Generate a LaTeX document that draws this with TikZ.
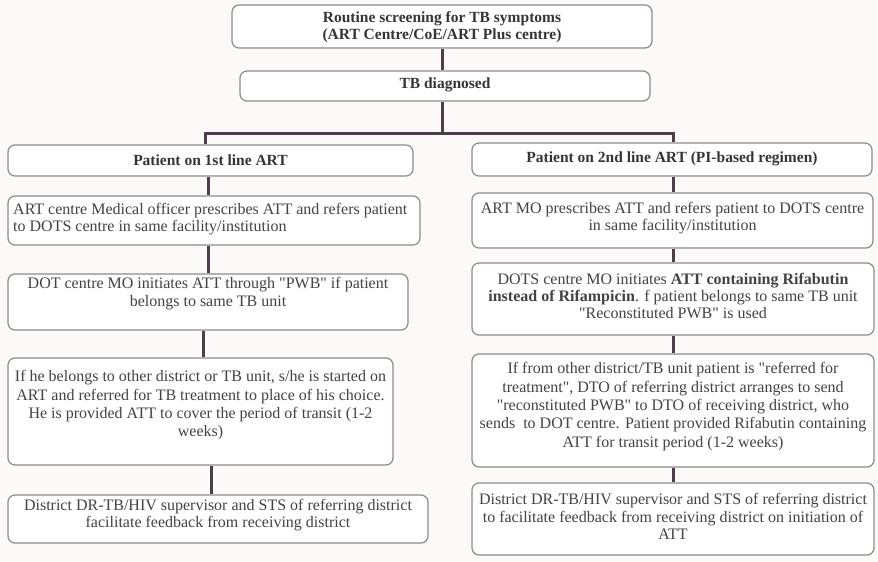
\documentclass[tikz,border=0pt]{standalone}
\usepackage{fontspec}
\setmainfont{Liberation Serif}
\definecolor{boxline}{HTML}{8C8A8C}
\definecolor{linkcol}{HTML}{4E3E4C}
\definecolor{txt}{HTML}{444244}
\definecolor{paper}{HTML}{FCFAF8}
\newcommand{\sq}[1]{\textquotedbl#1\textquotedbl}
\begin{document}
\begin{tikzpicture}[x=1pt,y=-1pt,
  box/.style={draw=boxline, line width=1.2pt, rounded corners=7pt, fill=white,
    inner sep=0pt},
  txtnode/.style={text=txt, font=\fontsize{16}{18}\selectfont, align=center,
    inner sep=0pt},
  head/.style={txtnode, text=txt!80!black, font=\fontsize{15.5}{16.5}\selectfont\bfseries},
  link/.style={draw=linkcol, line width=3pt}]
\fill[paper] (0,0) rectangle (878,562);
\useasboundingbox (0,0) rectangle (878,562);

% boxes
\node[box, minimum width=420pt, minimum height=43pt] (top) at (442,26.5) {};
\node[box, minimum width=410pt, minimum height=30pt] (diag) at (445,86) {};
\node[box, minimum width=405pt, minimum height=31pt] (L1) at (210.5,160.5) {};
\node[box, minimum width=400pt, minimum height=33pt] (R1) at (672,159.5) {};
\node[box, minimum width=412pt, minimum height=49pt] (L2) at (214,220.5) {};
\node[box, minimum width=401pt, minimum height=55pt] (R2) at (672.5,220.5) {};
\node[box, minimum width=400pt, minimum height=56pt] (L3) at (208,302) {};
\node[box, minimum width=402pt, minimum height=72pt] (R3) at (673,299) {};
\node[box, minimum width=385pt, minimum height=107pt] (L4) at (200.5,411.5) {};
\node[box, minimum width=402pt, minimum height=113pt] (R4) at (673,410.5) {};
\node[box, minimum width=420pt, minimum height=48pt] (L5) at (218,519) {};
\node[box, minimum width=402pt, minimum height=72pt] (R5) at (673,519) {};

% texts
\node[head] (ttop) at (442,27)
  {Routine screening for TB symptoms\\(ART Centre/CoE/ART Plus centre)};
\node[head] (tdiag) at (445,85) {TB diagnosed};
\node[head] (tL1) at (210.5,160) {Patient on 1st line ART};
\node[head] (tR1) at (672,159) {Patient on 2nd line ART (PI-based regimen)};
\node[txtnode, font=\fontsize{16}{16.5}\selectfont, align=left, anchor=west] (tL2) at (13,219)
  {ART centre Medical officer prescribes ATT and refers patient\\to DOTS centre in same facility/institution};
\node[txtnode, font=\fontsize{16}{16.5}\selectfont] (tR2) at (672.5,218)
  {ART MO prescribes ATT and refers patient to DOTS centre\\in same facility/institution};
\node[txtnode] (tL3) at (208,294)
  {DOT centre MO initiates ATT through \sq{PWB} if patient\\belongs to same TB unit};
\node[txtnode, font=\fontsize{16}{17}\selectfont] (tR3) at (673,296)
  {DOTS centre MO initiates \textbf{ATT containing Rifabutin}\\\textbf{instead of Rifampicin}. f patient belongs to same TB unit\\\sq{Reconstituted PWB} is used};
\node[txtnode, font=\fontsize{16}{18.3}\selectfont] (tL4) at (200.5,405.5)
  {If he belongs to other district or TB unit, s/he is started on\\ART and referred for TB treatment to place of his choice.\\He is provided ATT to cover the period of transit (1-2\\weeks)};
\node[txtnode, font=\fontsize{16}{18.3}\selectfont] (tR4) at (673,406.5)
  {If from other district/TB unit patient is \sq{referred for\\treatment}, DTO of referring district arranges to send\\\sq{reconstituted PWB} to DTO of receiving district, who\\sends\ \ to DOT centre. Patient provided Rifabutin containing\\ATT for transit period (1-2 weeks)};
\node[txtnode, font=\fontsize{16}{17}\selectfont] (tL5) at (218,515.5)
  {District DR-TB/HIV supervisor and STS of referring district\\facilitate feedback from receiving district};
\node[txtnode, font=\fontsize{16}{17.5}\selectfont] (tR5) at (673,516.5)
  {District DR-TB/HIV supervisor and STS of referring district\\to facilitate feedback from receiving district on initiation of\\ATT};

% column positions of the connectors
\coordinate (xm) at (442,0);
\coordinate (xa) at (205,0);
\coordinate (xb) at (208,0);
\coordinate (xc) at (203,0);
\coordinate (xd) at (211,0);
\coordinate (xr) at (673,0);
\coordinate (split) at (442,133);

% connectors
\draw[link] (top.south -| xm) -- (diag.north -| xm);
\draw[link] (diag.south -| xm) -- (split);
\draw[link] (L1.north -| xa) |- (split) -| (R1.north -| xr);
\draw[link] (L1.south -| xb) -- (L2.north -| xb);
\draw[link] (L2.south -| xb) -- (L3.north -| xb);
\draw[link] (L3.south -| xc) -- (L4.north -| xc);
\draw[link] (L4.south -| xd) -- (L5.north -| xd);
\draw[link] (R1.south -| xr) -- (R2.north -| xr);
\draw[link] (R2.south -| xr) -- (R3.north -| xr);
\draw[link] (R3.south -| xr) -- (R4.north -| xr);
\draw[link] (R4.south -| xr) -- (R5.north -| xr);
\end{tikzpicture}
\end{document}
